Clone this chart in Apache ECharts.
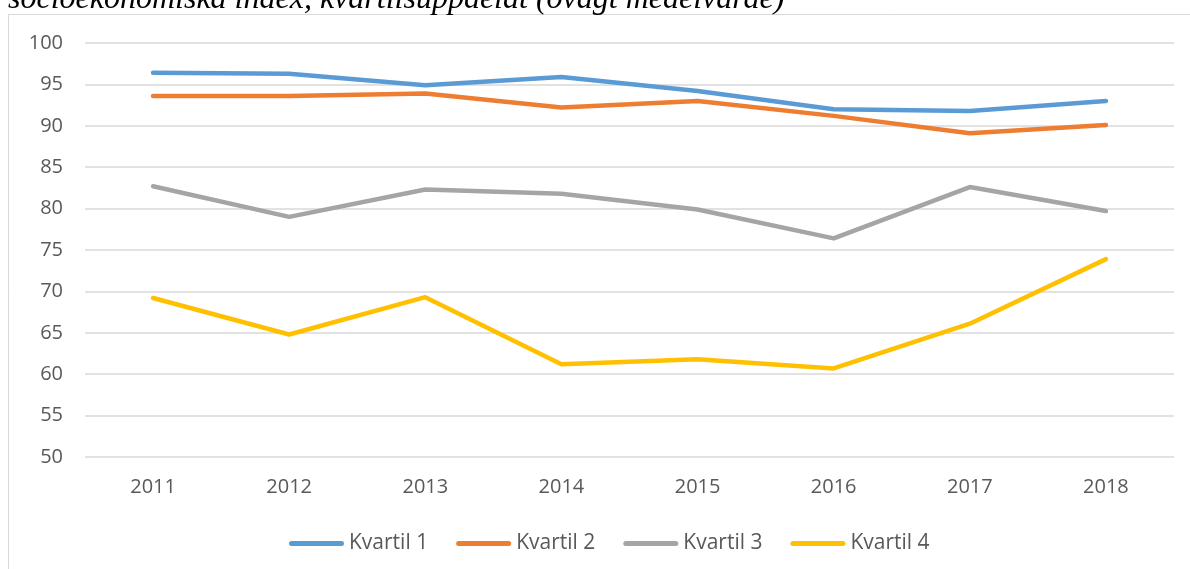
<!DOCTYPE html>
<html>
<head>
<meta charset="utf-8">
<script src="https://cdn.jsdelivr.net/npm/echarts@6/dist/echarts.min.js"></script>
<style>
html,body{margin:0;padding:0;background:#fff;}
#chart{width:1190px;height:569px;}
</style>
</head>
<body>
<div id="chart"></div>
<script>
const titleText = 'socioekonomiska index, kvartilsuppdelat (ovägt medelvärde)';
const categories = ['2011','2012','2013','2014','2015','2016','2017','2018'];
const seriesNames = ['Kvartil 1','Kvartil 2','Kvartil 3','Kvartil 4'];
const kvartil1 = [96.4, 96.3, 94.9, 95.9, 94.2, 92.0, 91.8, 93.0];
const kvartil2 = [93.6, 93.6, 93.9, 92.2, 93.0, 91.2, 89.1, 90.1];
const kvartil3 = [82.7, 79.0, 82.3, 81.8, 79.9, 76.4, 82.6, 79.7];
const kvartil4 = [69.2, 64.8, 69.3, 61.2, 61.8, 60.7, 66.1, 73.9];
const colors = ['#5B9BD5','#ED7D31','#A5A5A5','#FFC000'];

const chart = echarts.init(document.getElementById('chart'), null, {renderer:'canvas'});
const FONT = '"Open Sans", "Liberation Sans", sans-serif';
const dataSets = [kvartil1, kvartil2, kvartil3, kvartil4];

chart.setOption({
  animation: false,
  color: colors,
  graphic: [
    {
      type: 'rect', silent: true, z: -10,
      shape: {x: 8.5, y: 14.5, width: 1300, height: 700},
      style: {fill: '#fff', stroke: '#d9d9d9', lineWidth: 1}
    },
    {
      type: 'text', silent: true,
      style: {
        text: titleText, x: 8, y: -16,
        font: 'italic 32px "Liberation Serif", serif',
        fill: '#000'
      }
    }
  ],
  grid: {left: 85, right: 16, top: 43, bottom: 112, containLabel: false},
  legend: {
    left: 284, top: 528,
    itemWidth: 55, itemHeight: 5, itemGap: 28,
    icon: 'path://M2.5,0H52.5A2.5,2.5,0,0,1,52.5,5H2.5A2.5,2.5,0,0,1,2.5,0Z',
    textStyle: {color: '#595959', fontSize: 21, fontFamily: FONT},
    data: seriesNames
  },
  xAxis: {
    type: 'category', data: categories, boundaryGap: true,
    axisLine: {show: false}, axisTick: {show: false},
    axisLabel: {color: '#595959', fontSize: 20, fontFamily: FONT, margin: 20}
  },
  yAxis: {
    type: 'value', min: 50, max: 100, interval: 5,
    axisLine: {show: false}, axisTick: {show: false},
    splitLine: {lineStyle: {color: '#d9d9d9', width: 1.5}},
    axisLabel: {color: '#595959', fontSize: 20, fontFamily: FONT, margin: 22}
  },
  series: seriesNames.map((n, i) => ({
    name: n, type: 'line', data: dataSets[i],
    symbol: 'none', showSymbol: false,
    lineStyle: {width: 4.5, cap: 'round', join: 'round', color: colors[i]},
    itemStyle: {color: colors[i]}
  }))
});
</script>
</body>
</html>
